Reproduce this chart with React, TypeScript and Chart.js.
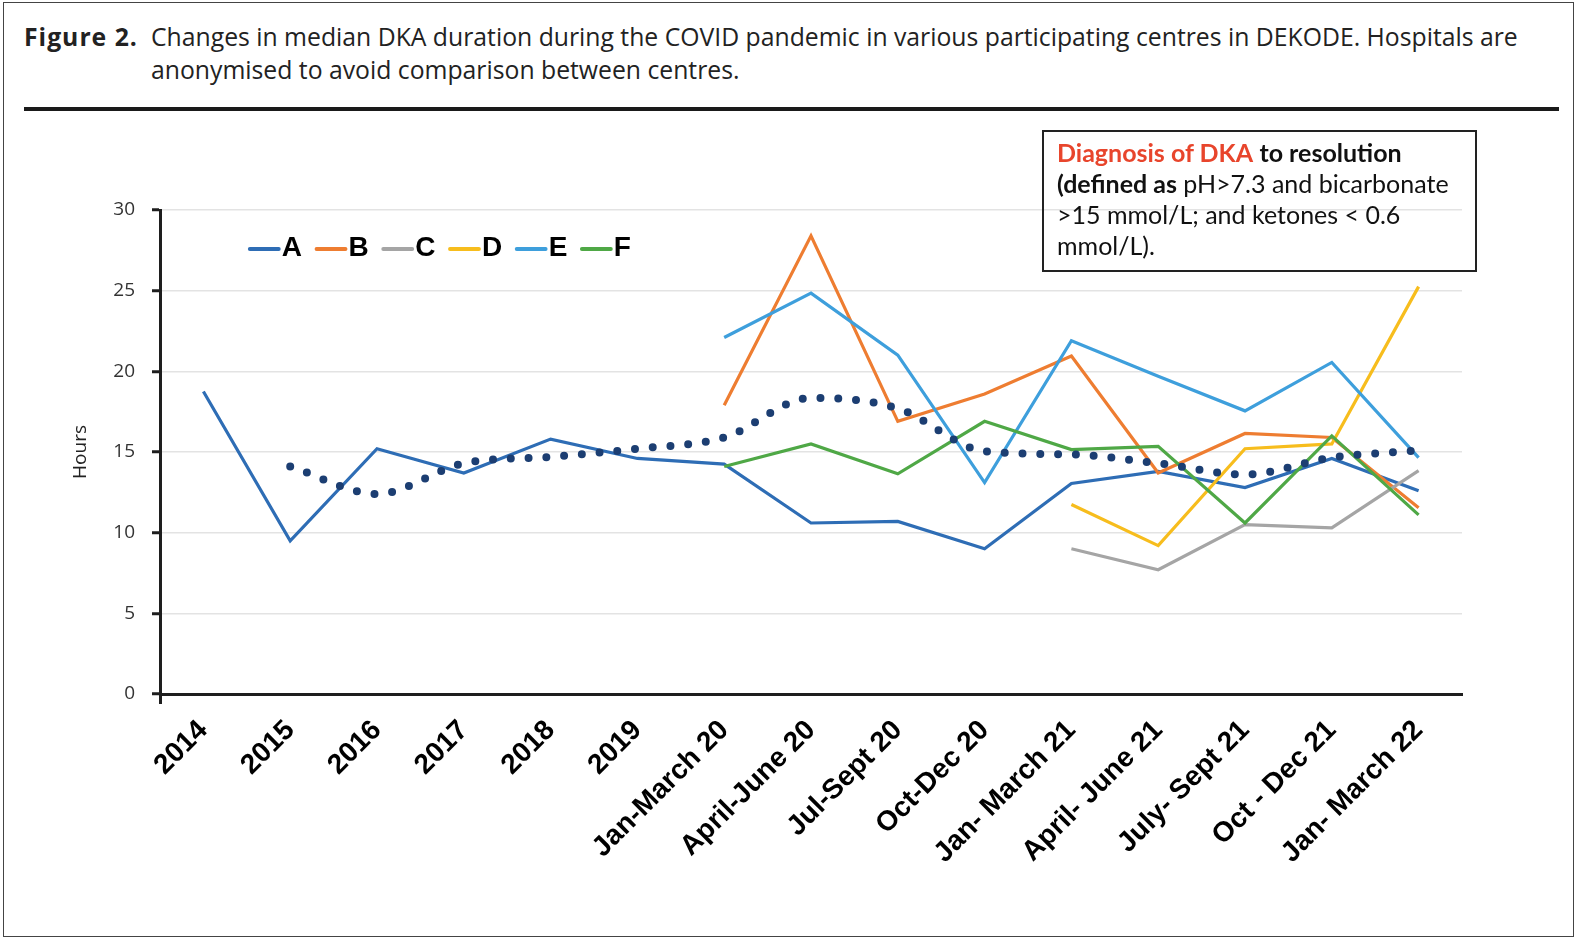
import React, { useEffect, useRef } from 'react';
import { Chart, registerables } from 'chart.js';

Chart.register(...registerables);

const categories = [
  '2014', '2015', '2016', '2017', '2018', '2019',
  'Jan-March 20', 'April-June 20', 'Jul-Sept 20', 'Oct-Dec 20',
  'Jan- March 21', 'April- June 21', 'July- Sept 21', 'Oct - Dec 21', 'Jan- March 22',
];

const seriesA = [18.75, 9.5, 15.2, 13.7, 15.8, 14.6, 14.25, 10.6, 10.7, 9.0, 13.05, 13.8, 12.8, 14.6, 12.6];
const seriesB = [null, null, null, null, null, null, 17.9, 28.4, 16.9, 18.6, 20.95, 13.7, 16.15, 15.9, 11.55];
const seriesC = [null, null, null, null, null, null, null, null, null, null, 9.0, 7.7, 10.5, 10.3, 13.85];
const seriesD = [null, null, null, null, null, null, null, null, null, null, 11.75, 9.2, 15.2, 15.5, 25.25];
const seriesE = [null, null, null, null, null, null, 22.1, 24.85, 21.0, 13.1, 21.9, 19.7, 17.55, 20.55, 14.65];
const seriesF = [null, null, null, null, null, null, 14.1, 15.5, 13.65, 16.9, 15.15, 15.35, 10.6, 16.0, 11.1];
const trendValues = [null, 14.1, 12.4, 14.3, 14.7, 15.2, 15.9, 18.35, 17.7, 15.05, 14.85, 14.3, 13.6, 14.65, 15.1];

const yTicks = [0, 5, 10, 15, 20, 25, 30];

const legendNames = ['A', 'B', 'C', 'D', 'E', 'F'];
const colors = ['#2e6db5', '#ee7d31', '#a5a5a5', '#f7bd1d', '#3e9fdc', '#4fa846'];
const trendColor = '#1c3e72';

const inlineLegend = {
  id: 'inlineLegend',
  afterDraw(chart: any) {
    const ctx = chart.ctx;
    const area = chart.chartArea;
    ctx.save();
    ctx.font = 'bold 28px "Liberation Sans", Arial, sans-serif';
    ctx.textBaseline = 'middle';
    ctx.textAlign = 'left';
    let x = area.left + 88.3;
    const y = area.top + 38.5;
    chart.data.datasets.forEach((ds: any) => {
      if (!ds.inLegend) return;
      ctx.strokeStyle = ds.borderColor;
      ctx.lineWidth = 3.8;
      ctx.lineCap = 'round';
      ctx.beginPath();
      ctx.moveTo(x + 1.5, y + 0.5);
      ctx.lineTo(x + 30.5, y + 0.5);
      ctx.stroke();
      x += 33.5;
      ctx.fillStyle = '#000';
      ctx.fillText(ds.label, x, y);
      x += ctx.measureText(ds.label).width + 13;
    });
    ctx.restore();
  },
};

export default function App() {
  const canvasRef = useRef<HTMLCanvasElement | null>(null);

  useEffect(() => {
    if (!canvasRef.current) return;
    const all = [seriesA, seriesB, seriesC, seriesD, seriesE, seriesF];
    const datasets: any[] = all.map((vals, i) => ({
      label: legendNames[i],
      data: vals,
      borderColor: colors[i],
      backgroundColor: colors[i],
      borderWidth: 3.2,
      pointRadius: 0,
      tension: 0,
      fill: false,
      inLegend: true,
      order: 6 - i,
    }));
    datasets.push({
      label: '',
      data: trendValues,
      borderColor: trendColor,
      borderWidth: 8,
      borderDash: [0, 17.8],
      borderCapStyle: 'round',
      pointRadius: 0,
      cubicInterpolationMode: 'monotone',
      fill: false,
      inLegend: false,
      order: 0,
    });

    const chart = new Chart(canvasRef.current, {
      type: 'line',
      data: { labels: categories, datasets },
      plugins: [inlineLegend],
      options: {
        responsive: false,
        animation: false,
        devicePixelRatio: 1,
        layout: { padding: { left: 0, top: 210, right: 115, bottom: 0 } },
        plugins: {
          legend: { display: false },
          tooltip: { enabled: false },
          title: { display: false },
        },
        scales: {
          x: {
            type: 'category',
            offset: true,
            afterFit: (scale: any) => { scale.height = 246; },
            grid: {
              display: true,
              offset: true,
              drawOnChartArea: false,
              drawTicks: true,
              tickLength: 10,
              tickWidth: 3,
              tickColor: (c: any) => (c.index === 0 ? '#1e1e1e' : 'rgba(0,0,0,0)'),
            },
            border: { display: true, color: '#1e1e1e', width: 3 },
            ticks: {
              autoSkip: false,
              maxRotation: 45,
              minRotation: 45,
              padding: 10,
              color: '#000',
              font: { family: '"Liberation Sans", Arial, sans-serif', size: 28, weight: 'bold' },
            },
          },
          y: {
            min: 0,
            max: 30,
            afterFit: (scale: any) => { scale.width = 160; },
            afterBuildTicks: (scale: any) => { scale.ticks = yTicks.map((v) => ({ value: v })); },
            grid: {
              color: '#e3e3e3',
              lineWidth: 1.5,
              drawTicks: true,
              tickLength: 8,
              tickWidth: 3,
              tickColor: '#1e1e1e',
            },
            border: { display: true, color: '#1e1e1e', width: 3 },
            ticks: {
              padding: 17,
              color: '#333',
              font: { family: '"Open Sans", sans-serif', size: 19 },
            },
            title: {
              display: true,
              text: 'Hours',
              color: '#222',
              font: { family: '"Open Sans", sans-serif', size: 19 },
              padding: { top: 69, bottom: 0 },
            },
          },
        },
      } as any,
    });
    return () => chart.destroy();
  }, []);

  return (
    <div style={{ position: 'absolute', left: 0, top: 0, width: 1577, height: 940, background: '#fff', overflow: 'hidden' }}>
      <div style={{ position: 'absolute', left: 3, top: 2, width: 1571, height: 935, border: '1.5px solid #444', boxSizing: 'border-box' }} />
      <div style={{ position: 'absolute', left: 24, top: 20, whiteSpace: 'nowrap', fontFamily: '"Open Sans", sans-serif', fontSize: 24.75, lineHeight: '33px', color: '#222' }}>
        <span style={{ fontWeight: 700, position: 'absolute', left: 0, top: 0, letterSpacing: '1px' }}>Figure 2.</span>
        <div style={{ position: 'absolute', left: 127, top: 0 }}>
          Changes in median DKA duration during the COVID pandemic in various participating centres in DEKODE. Hospitals are
          <br />
          anonymised to avoid comparison between centres.
        </div>
      </div>
      <div style={{ position: 'absolute', left: 24, top: 107, width: 1535, height: 4, background: '#1a1a1a' }} />
      <canvas ref={canvasRef} width={1577} height={940} style={{ position: 'absolute', left: 0, top: 0, width: 1577, height: 940 }} />
      <div style={{ position: 'absolute', left: 1042, top: 130, width: 435, height: 142, border: '2px solid #222', boxSizing: 'border-box', padding: '5px 0 0 13px', fontFamily: 'Lato, sans-serif', fontSize: 25, lineHeight: '31px', color: '#111', whiteSpace: 'nowrap' }}>
        <div><b style={{ color: '#e8452c' }}>Diagnosis of DKA</b> <b>to resolution</b></div>
        <div><b>(defined as</b> pH&gt;7.3 and bicarbonate</div>
        <div>&gt;15 mmol/L; and ketones &lt; 0.6</div>
        <div>mmol/L).</div>
      </div>
    </div>
  );
}
